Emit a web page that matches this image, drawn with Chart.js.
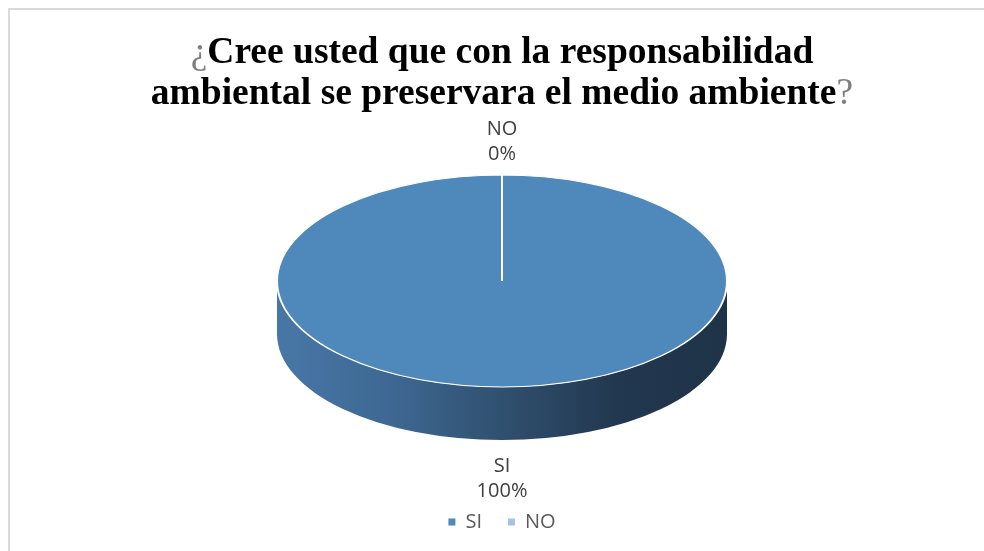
<!DOCTYPE html>
<html>
<head>
<meta charset="utf-8">
<script src="https://cdn.jsdelivr.net/npm/chart.js@4.4.1/dist/chart.umd.min.js"></script>
<style>
  html, body { margin: 0; padding: 0; background: #fff; overflow: hidden; }
  #wrap { position: relative; width: 984px; height: 551px; overflow: hidden; }
  #frame { position: absolute; left: 8px; top: 8px; width: 2000px; height: 2000px;
           border-top: 2px solid #d9d9d9; border-left: 2px solid #d9d9d9; }
  #title { position: absolute; left: 8px; top: 30px; width: 988px; text-align: center;
           font-family: "Liberation Serif", "Times New Roman", serif; font-weight: bold;
           font-size: 37.5px; line-height: 41px; color: #000; }
  #title .q { font-weight: normal; color: #7f7f7f; }
  canvas { position: absolute; left: 0; top: 0; }
</style>
</head>
<body>
<div id="wrap">
  <div id="frame"></div>
  <canvas id="grafico" width="984" height="551"></canvas>
  <div id="title"><span class="q">¿</span>Cree usted que con la responsabilidad<br>ambiental se preservara el medio ambiente<span class="q">?</span></div>
</div>
<script>
const categorias = ['SI', 'NO'];
const valores = [100, 0];
const porcentajes = ['100%', '0%'];

const coresTopo = ['#4f88bb', '#a5c3e4'];

// aparencia "3D": achatamento e espessura do disco
const inclinacao = 106 / 225;
const espessura = 53;
const centroY = 281;

function intervalosFrente(a0, a1) {
  // parte do arco que fica na frente (angulos entre 0 e PI)
  const res = [];
  for (let k = -1; k <= 1; k++) {
    const s = Math.max(a0, k * 2 * Math.PI);
    const e = Math.min(a1, k * 2 * Math.PI + Math.PI);
    if (e > s) res.push([s, e]);
  }
  return res;
}

const pizza3d = {
  id: 'pizza3d',
  beforeDatasetsDraw(chart) {
    const ctx = chart.ctx;
    const meta = chart.getDatasetMeta(0);
    const arco0 = meta.data[0];
    const cx = arco0.x, cy = arco0.y, r = arco0.outerRadius;
    const ry = r * inclinacao;

    // lateral do disco
    meta.data.forEach((arc, i) => {
      intervalosFrente(arc.startAngle, arc.endAngle).forEach(([s, e]) => {
        const grad = ctx.createLinearGradient(cx - r, 0, cx + r, 0);
        grad.addColorStop(0, '#4877a7');
        grad.addColorStop(0.25, '#3e6893');
        grad.addColorStop(0.5, '#30506f');
        grad.addColorStop(0.75, '#223850');
        grad.addColorStop(1, '#1f3348');
        ctx.save();
        ctx.beginPath();
        ctx.ellipse(cx, centroY, r, ry, 0, s, e, false);
        ctx.ellipse(cx, centroY + espessura, r, ry, 0, e, s, true);
        ctx.closePath();
        ctx.fillStyle = grad;
        ctx.fill();
        ctx.restore();
      });
    });

    // topo achatado
    ctx.save();
    ctx.translate(cx, centroY);
    ctx.scale(1, inclinacao);
    ctx.translate(-cx, -cy);
  },
  afterDatasetsDraw(chart) {
    const ctx = chart.ctx;
    ctx.restore();

    // rotulos
    const meta = chart.getDatasetMeta(0);
    ctx.save();
    ctx.font = '20px "Open Sans", sans-serif';
    ctx.fillStyle = '#404040';
    ctx.textAlign = 'center';
    ctx.textBaseline = 'middle';
    meta.data.forEach((arc, i) => {
      const meio = (arc.startAngle + arc.endAngle) / 2;
      const dx = Math.cos(meio), dy = Math.sin(meio);
      const ry = arc.outerRadius * inclinacao;
      const x = arc.x + dx * (arc.outerRadius + 20);
      let y = centroY + dy * (ry + (dy > 0 ? 39 : 33));
      if (dy > 0) y += espessura;
      ctx.fillText(categorias[i], x, y - 12.5);
      ctx.fillText(porcentajes[i], x, y + 12.5);
    });
    ctx.restore();
  }
};

new Chart(document.getElementById('grafico'), {
  type: 'pie',
  data: {
    labels: categorias,
    datasets: [{
      data: valores,
      backgroundColor: coresTopo,
      borderColor: '#ffffff',
      borderWidth: 2,
      radius: 225,
      clip: false
    }]
  },
  options: {
    responsive: false,
    animation: false,
    devicePixelRatio: 1,
    layout: {
      padding: { top: 0, bottom: 9, left: 20, right: 0 }
    },
    plugins: {
      tooltip: { enabled: false },
      legend: {
        position: 'bottom',
        labels: {
          boxWidth: 7,
          boxHeight: 7,
          padding: 26,
          color: '#595959',
          font: { family: 'Open Sans', size: 20 },
          generateLabels(chart) {
            const itens = Chart.overrides.pie.plugins.legend.labels.generateLabels(chart);
            itens.forEach(item => {
              item.strokeStyle = item.fillStyle;
              item.lineWidth = 0;
            });
            return itens;
          }
        }
      }
    }
  },
  plugins: [pizza3d]
});
</script>
</body>
</html>
